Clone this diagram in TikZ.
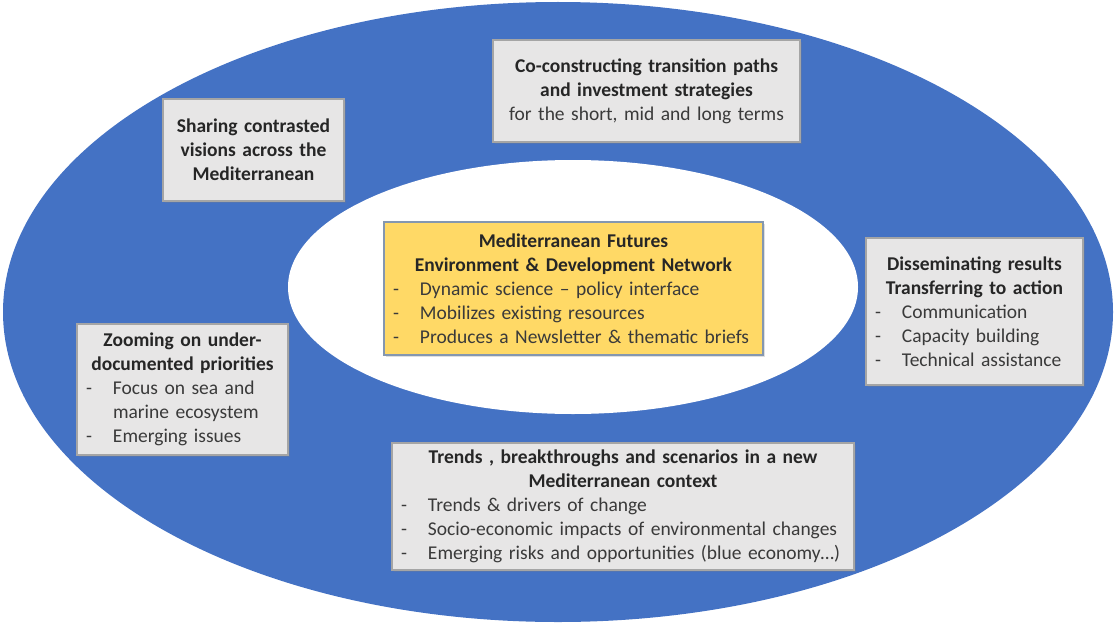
\documentclass[tikz,border=0pt]{standalone}
\usepackage{fontspec}
\setmainfont{Carlito}
\usepackage{tikz}
\usetikzlibrary{
    shadows,
    positioning
}
\definecolor{ringblue}{HTML}{4472C4}
\definecolor{boxgray}{HTML}{E7E6E6}
\definecolor{boxline}{HTML}{A5A5A5}
\definecolor{netyellow}{HTML}{FFD966}
\definecolor{netline}{HTML}{8497B0}
\definecolor{bodytext}{HTML}{3A3A3A}
\newcommand{\dashline}[2][-]{\makebox[\linewidth][l]{\makebox[27pt][l]{#1}#2}}

\begin{document}
\begin{tikzpicture}[x=1pt, y=-1pt,
    graybox/.style={draw=boxline, fill=boxgray, line width=1.2pt, inner xsep=9pt,
        align=center, text=bodytext, font=\fontsize{19.5}{24}\selectfont,
        drop shadow={shadow xshift=2pt, shadow yshift=-2pt, opacity=0.25}},
    yellowbox/.style={graybox, draw=netline, fill=netyellow}
]
                        \useasboundingbox (0,0) rectangle (1116,626);
                        \fill[ringblue] (558,312) ellipse [x radius=555pt, y radius=310pt];
                        \fill[white] (573,287) ellipse [x radius=285pt, y radius=127pt];
                        \node[yellowbox, text width=361, minimum height=133] (net) at (573.5,288.5)
                        {{\bfseries\color{black!85} Mediterranean Futures\\ Environment \& Development Network}\\
                        \dashline{Dynamic science -- policy interface}\\
                        \dashline{Mobilizes existing resources}\\
                        \dashline{Produces a Newsletter \& thematic briefs}};
                        \node[graybox, text width=163, minimum height=102] (share) at (253.5,150)
                        {\bfseries\color{black!85} Sharing contrasted\\ visions across the\\ Mediterranean};
                        \node[graybox, text width=289, minimum height=102] (paths) at (646.5,91)
                        {{\bfseries\color{black!85} Co-constructing transition paths\\ and investment strategies}\\
                        for the short, mid and long terms};
                        \node[graybox, text width=199, minimum height=147] (dissem) at (974.5,311.5)
                        {{\bfseries\color{black!85} Disseminating results\\ Transferring to action}\\
                        \dashline{Communication}\\
                        \dashline{Capacity building}\\
                        \dashline{Technical assistance}};
                        \node[graybox, text width=193, minimum height=131] (zoom) at (182.5,389.5)
                        {{\bfseries\color{black!85} Zooming on under-\\ documented priorities}\\
                        \dashline{Focus on sea and}\\
                        \dashline[]{marine ecosystem}\\
                        \dashline{Emerging issues}};
                        \node[graybox, text width=444, minimum height=127] (trends) at (623,506.5)
                        {{\bfseries\color{black!85} Trends , breakthroughs and scenarios in a new\\ Mediterranean context}\\
                        \dashline{Trends \& drivers of change}\\
                        \dashline{Socio-economic impacts of environmental changes}\\
                        \dashline{Emerging risks and opportunities (blue economy\dots)}};
                    \end{tikzpicture}
\end{document}
